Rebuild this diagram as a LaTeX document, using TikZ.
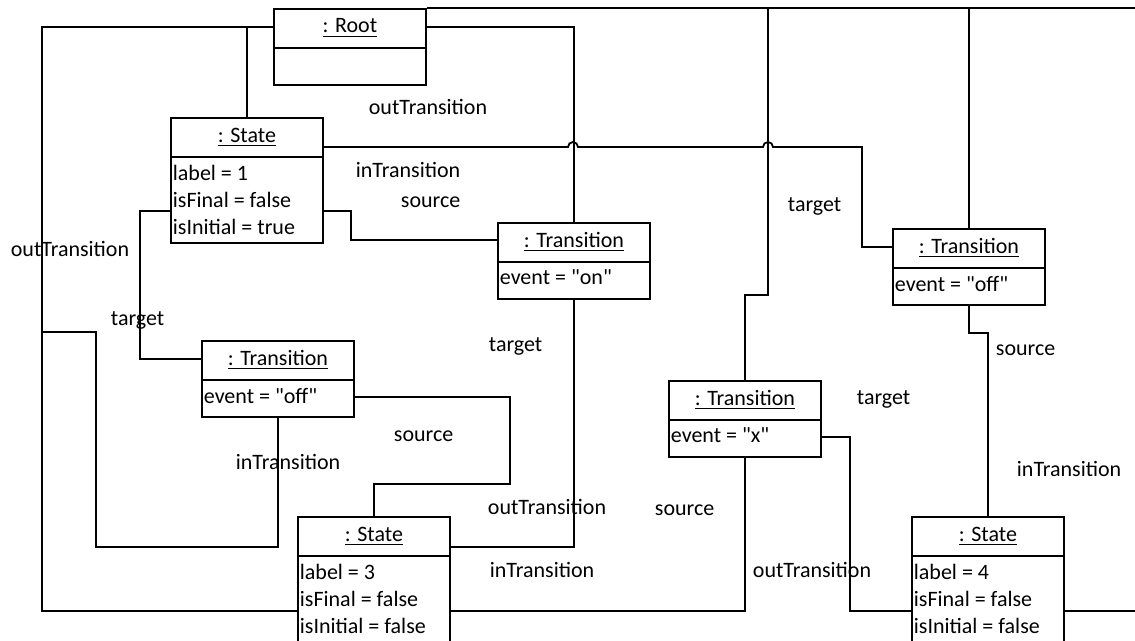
\documentclass[tikz,border=0pt]{standalone}
\usepackage{fontspec}
\setmainfont{Carlito}[Ligatures=TeXOff]
\begin{document}
\begin{tikzpicture}[x=0.5pt,y=-0.5pt,line width=0.9pt,
    obj/.style={draw,anchor=north west,minimum width=76pt,minimum height=#1,inner sep=0pt},
    lbl/.style={font=\fontsize{11}{13.5}\selectfont,inner sep=0pt}]
  \useasboundingbox(0,0)rectangle(1135,641);
  \clip(0,0)rectangle(1135,641);
  % objects
  \foreach \n/\x/\y/\h/\t/\a in{root/273/8/38pt/Root/{},
      s1/170/117/62.5pt/State/{label = 1\\isFinal = false\\isInitial = true},
      ton/497/222/38pt/Transition/{event = "on"},
      toffR/892/228/38pt/Transition/{event = "off"},
      toffL/201/340/38pt/Transition/{event = "off"},
      tx/668/380/38pt/Transition/{event = "x"},
      s3/297/516/64pt/State/{label = 3\\isFinal = false\\isInitial = false},
      s4/911/516/64pt/State/{label = 4\\isFinal = false\\isInitial = false}}{
    \node[obj=\h](\n)at(\x,\y){};
    \draw([yshift=-20pt]\n.north west)--([yshift=-20pt]\n.north east);
    \node[lbl](\n-t)at([yshift=-10pt]\n.north){\underline{: \t}};
    \node[lbl,anchor=north west,align=left](\n-a)at([xshift=1pt,yshift=-23.5pt]\n.north west){\a};
  }
  % links
  \draw(root.west|-0,27)-|(s1.north);
  \draw(root.west|-0,27)-|(42,611)--(s3.west|-0,611);
  \draw(42,332)-|(96,547)-|(toffL.south);
  \draw(root.east|-0,27)-|(ton.north);
  \draw(ton.south)|-(s3.east|-0,547);
  \draw(root.north east)--(1140,8);
  \draw(768,8)--(768,295)-|(tx.north);
  \draw(toffR.north|-0,8)--(toffR.north);
  \draw(s1.east|-0,147)--(568,147)arc(180:360:5)--(763,147)arc(180:360:5)-|(862,247)--(toffR.west|-0,247);
  \draw(s1.east|-0,211)-|(351,240)--(ton.west|-0,240);
  \draw(s1.west|-0,211)-|(140,359)--(toffL.west|-0,359);
  \draw(toffL.east|-0,397)-|(510,484)-|(s3.north);
  \draw(s3.east|-0,611)-|(tx.south);
  \draw(tx.east|-0,437)-|(850,611)--(s4.west|-0,611);
  \draw(toffR.south)|-(988,333)--(s4.north);
  \draw(s4.east|-0,611)--(1140,611);
  % role names
  \foreach \x/\y/\t[count=\i] in{10/257/outTransition, 368/115/outTransition, 355/178/inTransition,
      400/208/source, 110/326/target, 488/352/target, 787/212/target, 393/442/source,
      235/470/inTransition, 487/515/outTransition, 654/516/source, 489/577/inTransition,
      752/577/outTransition, 856/405/target, 995/356/source, 1016/476/inTransition}{
    \node[lbl,anchor=base west](r\i)at(\x,\y){\t};
  }
\end{tikzpicture}
\end{document}
